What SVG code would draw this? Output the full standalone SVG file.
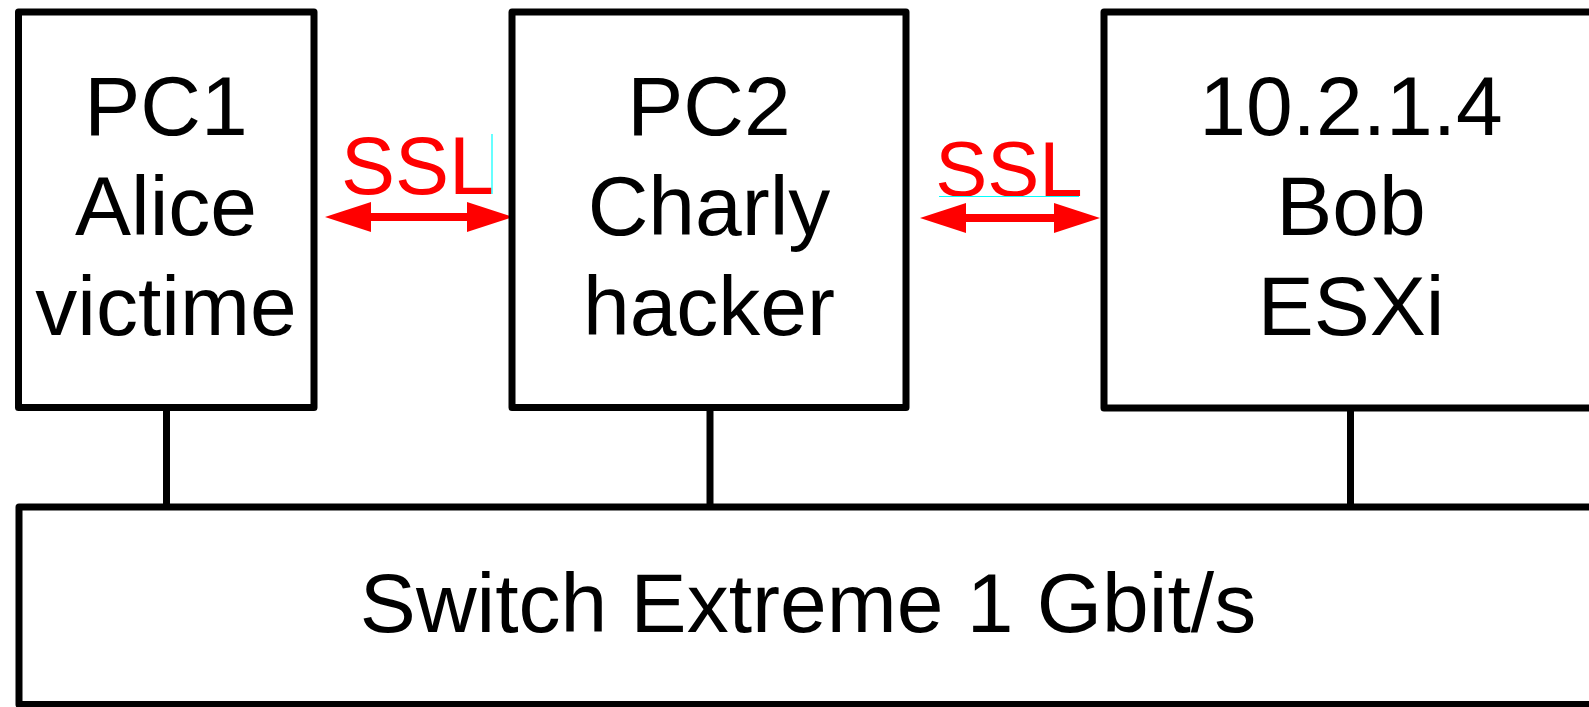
<svg xmlns="http://www.w3.org/2000/svg" width="1589" height="707" viewBox="0 0 1589 707">
  <style>
    .box { fill: #ffffff; stroke: #000000; stroke-width: 7; stroke-linejoin: round; }
    .link { stroke: #000000; stroke-width: 7; fill: none; }
    .label { font-family: "Liberation Sans", Arial, sans-serif; font-size: 84px; fill: #000000; text-anchor: middle; }
    .ssl { font-family: "Liberation Sans", Arial, sans-serif; fill: #ff0000; text-anchor: middle; }
    .tls { stroke: #ff0000; stroke-width: 8; fill: none; }
    .edge { stroke: #00ffff; stroke-width: 1.2; fill: none; }
  </style>
  <defs>
    <marker id="head" viewBox="0 0 46 30" refX="6" refY="15" markerWidth="46" markerHeight="30" markerUnits="userSpaceOnUse" orient="auto-start-reverse">
      <path d="M0,0 L46,15 L0,30 Z" fill="#ff0000"/>
    </marker>
  </defs>

  <rect width="1589" height="707" fill="#ffffff"/>

  <!-- network links from each host down to the switch -->
  <g id="connectors">
    <line class="link" x1="166.5" y1="408" x2="166.5" y2="507"/>
    <line class="link" x1="710" y1="408" x2="710" y2="507"/>
    <line class="link" x1="1350.5" y1="408" x2="1350.5" y2="507"/>
    <!-- encrypted sessions -->
    <line class="tls" x1="365" y1="217" x2="473" y2="217" marker-start="url(#head)" marker-end="url(#head)"/>
    <line class="tls" x1="960" y1="218" x2="1060" y2="218" marker-start="url(#head)" marker-end="url(#head)"/>
  </g>

  <g id="ssl-left">
    <text class="ssl" x="417.5" y="194" font-size="81">SSL</text>
    <line class="edge" x1="492" y1="134" x2="492" y2="194"/>
  </g>
  <g id="ssl-right">
    <text class="ssl" x="1009" y="196" font-size="78">SSL</text>
    <line class="edge" x1="939" y1="196.5" x2="1079" y2="196.5"/>
  </g>

  <g id="pc1">
    <rect class="box" x="18.5" y="12" width="295.5" height="395.5"/>
    <text class="label" x="166" y="135">PC1</text>
    <text class="label" x="166" y="235">Alice</text>
    <text class="label" x="166" y="335">victime</text>
  </g>

  <g id="pc2">
    <rect class="box" x="512" y="12" width="394" height="395.5"/>
    <text class="label" x="709" y="135">PC2</text>
    <text class="label" x="709" y="235">Charly</text>
    <text class="label" x="709" y="335">hacker</text>
  </g>

  <g id="bob">
    <rect class="box" x="1104" y="12" width="520" height="396"/>
    <text class="label" x="1351" y="135">10.2.1.4</text>
    <text class="label" x="1351" y="235">Bob</text>
    <text class="label" x="1351" y="335">ESXi</text>
  </g>

  <g id="switch">
    <rect class="box" x="19" y="507" width="1600" height="197.5"/>
    <text class="label" x="808" y="632">Switch Extreme 1 Gbit/s</text>
  </g>
</svg>
